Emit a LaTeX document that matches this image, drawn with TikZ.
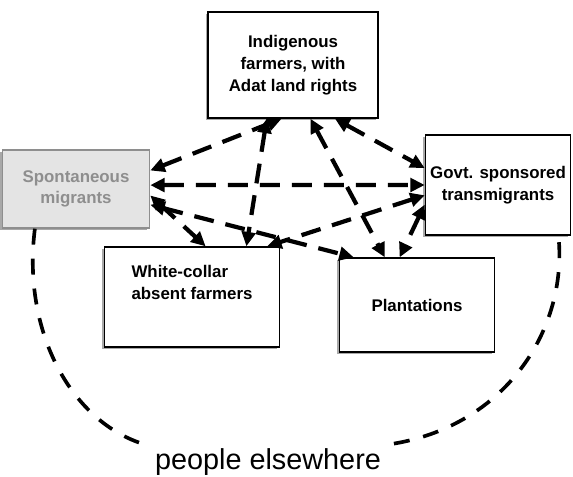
\documentclass[tikz,border=0pt]{standalone}
\usepackage{fontspec}
\setmainfont{Liberation Sans}
\usetikzlibrary{arrows.meta,shadows}
\definecolor{shadegrey}{HTML}{A8A8A8}
\definecolor{migrantgrey}{HTML}{8E8E8E}
\definecolor{migrantfill}{HTML}{E4E4E4}

\begin{document}
\begin{tikzpicture}[x=.25mm,y=-.25mm,
  box/.style={draw=black,line width=1pt,fill=white,align=center,inner sep=2pt,
    font=\bfseries\fontsize{12}{15.5}\selectfont,
    general shadow={shadow xshift=-1.6pt,shadow yshift=-1.6pt,fill=shadegrey}},
  link/.style={{Triangle[length=3.6mm,width=3.4mm]}-{Triangle[length=3.6mm,width=3.4mm]},
    line width=3pt,dash pattern=on 5mm off 3mm}]
\useasboundingbox (0,0) rectangle (573,477);
% the five groups
\node[box,minimum width=42.5mm,minimum height=26.5mm] (indig) at (293,65) {Indigenous\\farmers, with\\Adat land rights};
\node[box,draw=migrantgrey,fill=migrantfill,text=migrantgrey,minimum width=36.8mm,minimum height=19.5mm] (spont) at (76,189) {Spontaneous\\migrants};
\node[box,minimum width=36.3mm,minimum height=25mm] (govt) at (498,185) {Govt. sponsored\\transmigrants};
\node[box,align=left,minimum width=43.8mm,minimum height=25mm] (white) at (192,297) {White-collar\\absent farmers\\[2mm]};
\node[box,minimum width=38.8mm,minimum height=23.5mm] (plant) at (417,305) {Plantations};
% who moves where
\draw[link] (spont.14) -- (indig.258);
\draw[link] (spont.3) -- (govt.west);
\draw[link] (spont.-5) -- (white.75);
\draw[link] (spont.-12) -- (plant.143);
\draw[link] (indig.-52) -- (govt.167);
\draw[link] (indig.244) -- (white.43);
\draw[link] (indig.288) -- (plant.124);
\draw[link] (govt.188) -- (white.34);
\draw[link] (govt.195) -- (plant.110);
% loop through the outside
\node[font=\fontsize{20.5}{24}\selectfont] (away) at (268,462) {people elsewhere};
\draw[line width=2.6pt,dash pattern=on 4mm off 3.5mm]
  (spont.-136) .. controls (22,330) and (70,420) .. ([xshift=-2mm]away.north west)
  ([xshift=2mm]away.north east) .. controls (505,425) and (568,330) .. (govt.-40);
\end{tikzpicture}
\end{document}
